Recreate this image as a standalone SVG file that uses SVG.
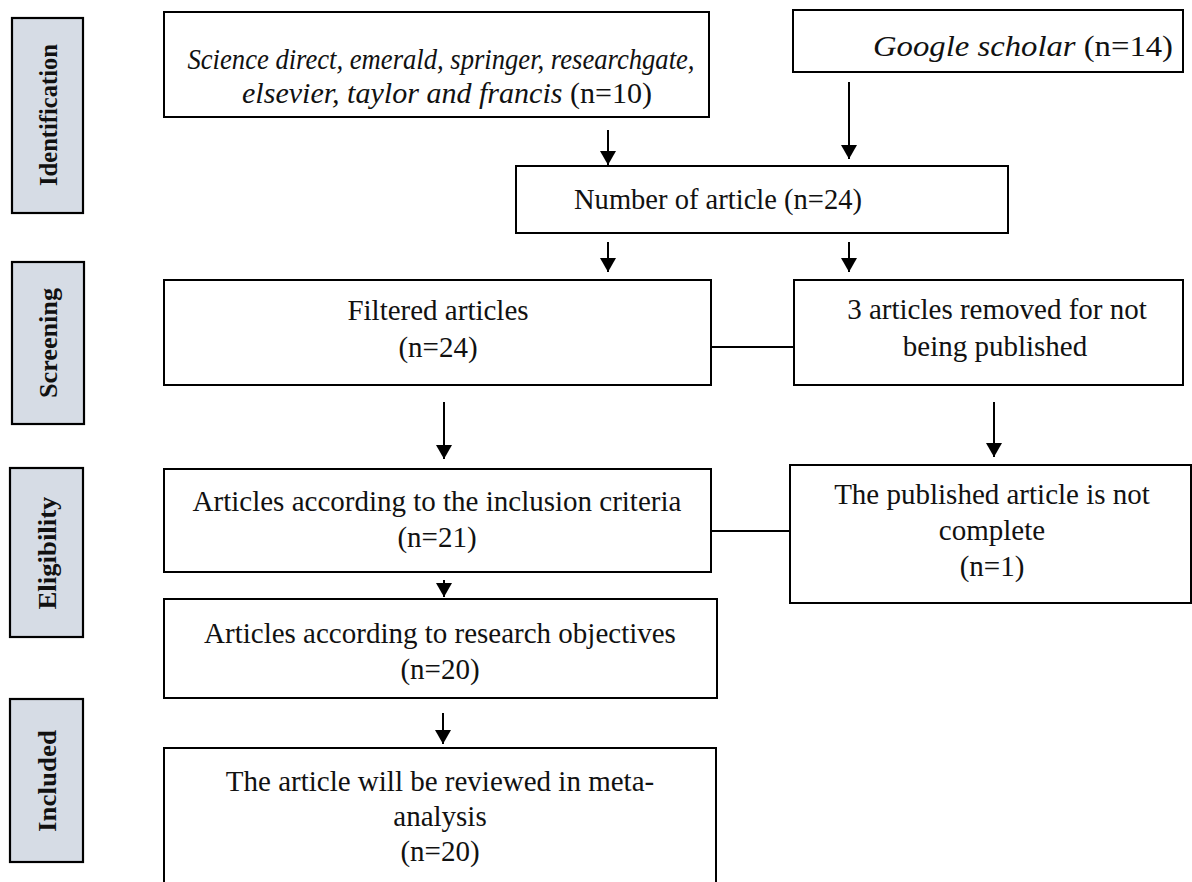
<svg xmlns="http://www.w3.org/2000/svg" width="1192" height="882" viewBox="0 0 1192 882">
<defs>
<marker id="ah" markerWidth="16" markerHeight="16" refX="14" refY="8" orient="auto" markerUnits="userSpaceOnUse">
<path d="M0,0 L14,8 L0,16 Z" fill="#000"/>
</marker>
<style>
.box{fill:#fff;stroke:#000;stroke-width:2}
.stage{fill:#d6dce5;stroke:#000;stroke-width:2.2}
.t{font-family:"Liberation Serif","Times New Roman",serif;font-size:29px;fill:#111;text-anchor:middle}
.lbl{font-family:"Liberation Serif","Times New Roman",serif;font-size:25px;font-weight:bold;fill:#111;text-anchor:middle}
.c{stroke:#000;stroke-width:2;fill:none}
</style>
</defs>
<rect width="1192" height="882" fill="#fff"/>

<g id="stage-identification">
<rect class="stage" x="12" y="18" width="71" height="195"/>
<text class="lbl" transform="translate(57,115) rotate(-90)" textLength="142" lengthAdjust="spacingAndGlyphs">Identification</text>
</g>
<g id="stage-screening">
<rect class="stage" x="12" y="262" width="72" height="162"/>
<text class="lbl" transform="translate(57,343) rotate(-90)" textLength="110" lengthAdjust="spacingAndGlyphs">Screening</text>
</g>
<g id="stage-eligibility">
<rect class="stage" x="10" y="468" width="73" height="169"/>
<text class="lbl" transform="translate(56,553) rotate(-90)" textLength="113" lengthAdjust="spacingAndGlyphs">Eligibility</text>
</g>
<g id="stage-included">
<rect class="stage" x="10" y="699" width="73" height="163"/>
<text class="lbl" transform="translate(56,781) rotate(-90)" textLength="102" lengthAdjust="spacingAndGlyphs">Included</text>
</g>

<g id="node-sources">
<rect class="box" x="164" y="12" width="545" height="105"/>
<text class="t" x="441" y="69" textLength="507" lengthAdjust="spacingAndGlyphs"><tspan font-style="italic">Science direct, emerald, springer, researchgate,</tspan></text>
<text class="t" x="447" y="103" textLength="410" lengthAdjust="spacingAndGlyphs"><tspan font-style="italic">elsevier, taylor and francis</tspan> (n=10)</text>
</g>
<g id="node-google">
<rect class="box" x="793" y="10" width="390" height="62"/>
<text class="t" x="1023" y="56" textLength="300" lengthAdjust="spacingAndGlyphs"><tspan font-style="italic">Google scholar</tspan> (n=14)</text>
</g>
<g id="node-number">
<rect class="box" x="516" y="166" width="492" height="67"/>
<text class="t" x="718" y="209" textLength="288" lengthAdjust="spacingAndGlyphs">Number of article (n=24)</text>
</g>
<g id="node-filtered">
<rect class="box" x="164" y="280" width="547" height="105"/>
<text class="t" x="438" y="320">Filtered articles</text>
<text class="t" x="438" y="357">(n=24)</text>
</g>
<g id="node-removed">
<rect class="box" x="794" y="280" width="389" height="105"/>
<text class="t" x="997" y="319">3 articles removed for not</text>
<text class="t" x="995" y="356">being published</text>
</g>
<g id="node-inclusion">
<rect class="box" x="164" y="469" width="547" height="103"/>
<text class="t" x="437" y="511">Articles according to the inclusion criteria</text>
<text class="t" x="437" y="547">(n=21)</text>
</g>
<g id="node-notcomplete">
<rect class="box" x="790" y="465" width="401" height="138"/>
<text class="t" x="992" y="504">The published article is not</text>
<text class="t" x="992" y="540">complete</text>
<text class="t" x="992" y="576">(n=1)</text>
</g>
<g id="node-objectives">
<rect class="box" x="164" y="599" width="553" height="99"/>
<text class="t" x="440" y="643">Articles according to research objectives</text>
<text class="t" x="440" y="679">(n=20)</text>
</g>
<g id="node-meta">
<rect class="box" x="164" y="748" width="552" height="150"/>
<text class="t" x="440" y="791">The article will be reviewed in meta-</text>
<text class="t" x="440" y="826">analysis</text>
<text class="t" x="440" y="861">(n=20)</text>
</g>

<g id="connectors">
<line class="c" x1="608" y1="130" x2="608" y2="165" marker-end="url(#ah)"/>
<line class="c" x1="849" y1="82" x2="849" y2="159" marker-end="url(#ah)"/>
<line class="c" x1="608" y1="242" x2="608" y2="272" marker-end="url(#ah)"/>
<line class="c" x1="849" y1="242" x2="849" y2="272" marker-end="url(#ah)"/>
<line class="c" x1="444" y1="402" x2="444" y2="459" marker-end="url(#ah)"/>
<line class="c" x1="994" y1="402" x2="994" y2="457" marker-end="url(#ah)"/>
<line class="c" x1="444" y1="580" x2="444" y2="597" marker-end="url(#ah)"/>
<line class="c" x1="443" y1="713" x2="443" y2="744" marker-end="url(#ah)"/>
<line class="c" x1="711" y1="347" x2="794" y2="347"/>
<line class="c" x1="711" y1="531" x2="790" y2="531"/>
</g>
</svg>
